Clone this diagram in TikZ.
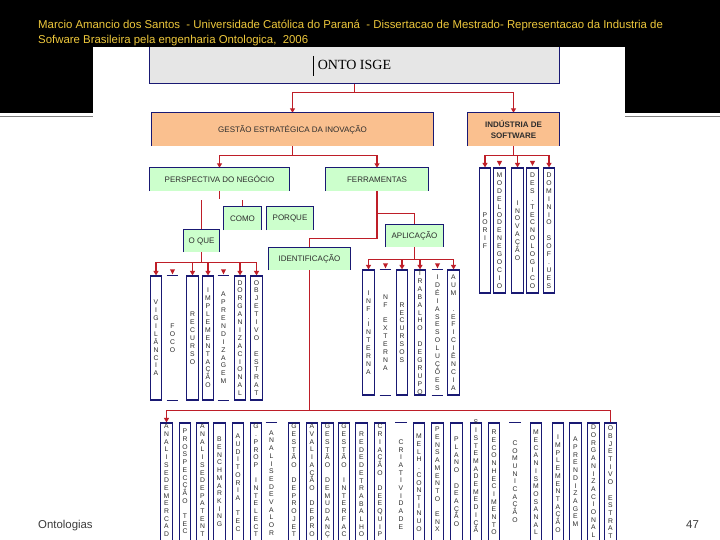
\documentclass[tikz,border=0pt]{standalone}
\usepackage{fontspec}
\setmainfont{Liberation Sans}
\newfontfamily\serfont{Liberation Serif}
\usetikzlibrary{arrows.meta,calc}
\pgfdeclarelayer{bg}
\pgfdeclarelayer{lines}
\pgfsetlayers{bg,lines,main}
\definecolor{navy}{RGB}{25,25,115}
\definecolor{conred}{RGB}{190,30,40}
\definecolor{peach}{RGB}{250,192,143}
\definecolor{lgreen}{RGB}{204,255,204}
\definecolor{lgrey}{RGB}{230,230,230}
\definecolor{ttlc}{RGB}{238,200,60}
\definecolor{txt}{RGB}{45,45,45}
\definecolor{foottxt}{RGB}{60,60,60}
\makeatletter
\def\vtxt#1{\parindent=0pt\vtxt@a#1\relax}
\def\vtxt@a#1{\ifx#1\relax\else\ifx#1_\mbox{}\else#1\fi\par\expandafter\vtxt@a\fi}
\makeatother
\newcommand\dtri[1]{\fill[conred] ($(#1.north)+(-2.6,-6.5)$) -- ($(#1.north)+(2.6,-6.5)$) -- ($(#1.north)+(0,-1.5)$) -- cycle;}
\newcommand\tside[1]{\draw[bord] (#1.south west) -- (#1.north west) -- (#1.north east) -- (#1.south east);}
\newcommand\openb[1]{\draw[bord] (#1.north west) -- (#1.north east); \draw[bord] (#1.south west) -- (#1.south east);}
\begin{document}
\begin{tikzpicture}[x=1pt,y=-1pt,
  conn/.style={draw=conred, line width=1.2pt},
  arr/.style={conn, -{Triangle[width=5pt,length=4.5pt]}},
  bord/.style={draw=navy, line width=1.2pt},
  cbox/.style={inner sep=0pt, font=\fontsize{8}{9.5}\selectfont, text=txt, align=center},
  vbx/.style={draw=navy, line width=1.2pt, inner sep=0pt, minimum width=11.5pt},
  obx/.style={inner sep=0pt, minimum width=11.5pt},
  vlab/.style={inner sep=0pt, text width=9pt, align=center, font=\fontsize{6.8}{7.9}\selectfont, text=txt},
  ttl/.style={anchor=base west, inner sep=0pt, text=ttlc, font=\fontsize{11.4}{13}\selectfont},
  foot/.style={anchor=base west, inner sep=0pt, text=foottxt, font=\fontsize{11.4}{13}\selectfont}]
\useasboundingbox (0,0) rectangle (720,540);
\begin{pgfonlayer}{bg}
  \fill[white] (0,0) rectangle (720,540);
  \fill[black] (0,0) rectangle (720,113);
  \draw[line width=1.5pt, gray] (0,116.5) -- (720,116.5);
  \fill[white] (93,47) rectangle (625,540);
\end{pgfonlayer}

% titles
\node[ttl] (t1) at (38,28.5) {Marcio Amancio dos Santos \ - Universidade Católica do Paraná \ - Dissertacao de Mestrado- Representacao da Industria de};
\node[ttl] (t2) at (38,43.5) {Sofware Brasileira pela engenharia Ontologica, \ 2006};
\node[foot] (ft) at (38,528) {Ontologias};
\node[foot] (pg) at (686,528) {47};

% main boxes
\node[cbox, fill=lgrey, minimum width=409pt, minimum height=36pt, font=\serfont\fontsize{14}{16}\selectfont, text=black] (onto) at (354.5,65) {ONTO ISGE};
\draw[bord] (onto.north west) -- (onto.south west) -- (onto.south east) -- (onto.north east);
\draw[line width=0.6pt, black] ($(onto.center)+(-41,-9)$) -- ($(onto.center)+(-41,11)$);

\node[cbox, fill=peach, minimum width=281pt, minimum height=33pt] (gestao) at (292.5,129.5) {GESTÃO ESTRATÉGICA DA INOVAÇÃO};
\node[cbox, fill=peach, minimum width=91pt, minimum height=33pt, font=\bfseries\fontsize{8}{11.5}\selectfont] (indus) at (513.5,129.5) {INDÚSTRIA DE\\SOFTWARE};
\node[cbox, fill=lgreen, minimum width=139pt, minimum height=23pt] (persp) at (219.5,179.5) {PERSPECTIVA DO NEGÓCIO};
\node[cbox, fill=lgreen, minimum width=102pt, minimum height=23pt] (ferr) at (377,179.5) {FERRAMENTAS};
\node[cbox, fill=lgreen, minimum width=37pt, minimum height=23pt] (como) at (242.5,218.5) {COMO};
\node[cbox, fill=lgreen, minimum width=46pt, minimum height=23pt] (porque) at (290,218.5) {PORQUE};
\node[cbox, fill=lgreen, minimum width=35pt, minimum height=22pt] (oque) at (201.5,241) {O QUE};
\node[cbox, fill=lgreen, minimum width=57pt, minimum height=22pt] (aplic) at (414.5,236) {APLICAÇÃO};
\node[cbox, fill=lgreen, minimum width=81pt, minimum height=22pt] (identif) at (309.5,259) {IDENTIFICAÇÃO};
\foreach \n in {gestao,indus,persp,ferr,como,porque,oque,aplic,identif} {\tside{\n}}

% industria group
\begin{scope}[every node/.append style={minimum height=125pt}]
\node[vbx] (i1) at (485,230.5) {};
\node[vbx] (i2) at (499.5,230.5) {};
\node[vbx] (i3) at (517.5,230.5) {};
\node[vbx] (i4) at (532.5,230.5) {};
\node[vbx] (i5) at (549,230.5) {};
\end{scope}
\node[vlab] (i1t) at (i1.center) {\vtxt{PORIF}};
\node[vlab] (i2t) at (i2.center) {\vtxt{MODELODENEGOCIO}};
\node[vlab] (i3t) at (i3.center) {\vtxt{INOVAÇÃO}};
\node[vlab] (i4t) at (i4.center) {\vtxt{DES.TECNOLOGICO}};
\node[vlab] (i5t) at (i5.center) {\vtxt{DOMINIO_SOF.UES}};

% perspectiva group
\begin{scope}[every node/.append style={minimum height=124pt}]
\node[vbx] (v1) at (156,338) {};
\node[obx] (v2) at (172.5,338) {};
\node[vbx] (v3) at (192.5,338) {};
\node[vbx] (v4) at (208,338) {};
\node[obx] (v5) at (223.5,338) {};
\node[vbx] (v6) at (240,338) {};
\node[vbx] (v7) at (256.5,338) {};
\end{scope}
\openb{v2}\openb{v5}
\node[vlab] (v1t) at (v1.center) {\vtxt{VIGILÂNCIA}};
\node[vlab] (v2t) at (v2.center) {\vtxt{FOCO}};
\node[vlab] (v3t) at (v3.center) {\vtxt{RECURSO}};
\node[vlab] (v4t) at (v4.center) {\vtxt{IMPLEMENTAÇÃO}};
\node[vlab] (v5t) at (v5.center) {\vtxt{APRENDIZAGEM}};
\node[vlab] (v6t) at (v6.center) {\vtxt{DORGANIZACIONAL}};
\node[vlab] (v7t) at (v7.center) {\vtxt{OBJETIVO_ESTRAT}};

% aplicacao group
\begin{scope}[every node/.append style={minimum height=125pt}]
\node[vbx] (a1) at (368.5,332.5) {};
\node[obx] (a2) at (385.5,332.5) {};
\node[vbx] (a3) at (402,332.5) {};
\node[vbx] (a4) at (420,332.5) {};
\node[obx] (a5) at (437.5,332.5) {};
\node[vbx] (a6) at (453.5,332.5) {};
\end{scope}
\openb{a2}\openb{a5}
\node[vlab] (a1t) at (a1.center) {\vtxt{INF.INTERNA}};
\node[vlab] (a2t) at (a2.center) {\vtxt{NF_EXTERNA}};
\node[vlab] (a3t) at (a3.center) {\vtxt{RECURSOS}};
\node[vlab] (a4t) at (a4.center) {\vtxt{TRABALHO_DEGRUPO}};
\node[vlab] (a5t) at (a5.center) {\vtxt{IDÉIASESOLUÇÕES}};
\node[vlab] (a6t) at (a6.center) {\vtxt{AUM_.EFICIÊNCIA}};

% bottom row
\begin{scope}[every node/.append style={minimum height=125pt}]
\foreach \n/\x/\s in {b1/166.5/vbx, b2/185/vbx, b3/202.5/vbx, b4/219.5/vbx, b5/238/vbx,
  b6/256/vbx, b7/271.5/obx, b8/294/vbx, b9/312/vbx, b10/327.5/vbx, b11/344/vbx,
  b12/361.5/vbx, b13/380/vbx, b14/401/obx, b15/419/vbx, b16/437.5/vbx, b17/456.5/vbx,
  b18/476/vbx, b19/494/vbx, b20/515/obx, b21/536/vbx, b22/558/vbx, b23/575.5/vbx,
  b24/593.5/vbx, b25/610.5/vbx}
  {\node[\s] (\n) at (\x,485.5) {};}
\end{scope}
\draw[bord] (b7.north west) -- (b7.north east);
\draw[bord] (b14.north west) -- (b14.north east);
\draw[bord] (b20.north west) -- (b20.north east);
\foreach \n/\o/\t in {b1/1.6/ANALISEDEMERCAD, b2/6.6/PROSPECÇÃO_TEC, b3/1.6/ANALISEDEPATENT,
  b4/14.6/BENCHMARKING, b5/11.6/AUDITORIA_TEC, b6/1.6/G.PROP_INTELECT,
  b7/7.6/ANALISEDEVALOR, b8/1.6/GESTÃO_DEPROJET, b9/1.6/AVALIAÇÃO_DEPRO,
  b10/1.6/GESTÃO_DEMUDANÇ, b11/1.6/GESTÃO_INTERFAC, b12/9.6/REDEDETRABALHO,
  b13/1.6/CRIAÇÃO_DEEQUIP, b14/16.6/CRIATIVIDADE, b15/11.6/MELH.CONTINUO,
  b16/4.6/PENSAMENTO_ENX, b17/14.6/PLANO_DEAÇÃO, b18/-2.4/SISTEMADEMEDIÇÃ,
  b19/7.6/RECONHECIMENTO, b20/17.6/COMUNICAÇÃO, b21/7.6/MECANISMOSANAL,
  b22/12.6/IMPLEMENTAÇÃO, b23/14.6/APRENDIZAGEM, b24/2.6/DORGANIZACIONAL,
  b25/3.4/OBJETIVO_ESTRAT}
  {\node[vlab, anchor=north, font=\fontsize{6.8}{7.7}\selectfont] (\n t) at ($(\n.north)+(0,\o)$) {\expandafter\vtxt\expandafter{\t}};}

% detached arrowheads
\dtri{i2}\dtri{i4}\dtri{v2}\dtri{v5}\dtri{a2}\dtri{a5}

% connectors
\begin{pgfonlayer}{lines}
\draw[arr] (onto.south) -- ++(0,9) -| (gestao.north);
\draw[arr] (onto.south) -- ++(0,9) -| (indus.north);
\draw[arr] (gestao.south) -- ++(0,9) -| (persp.north);
\draw[arr] (gestao.south) -- ++(0,9) -| (ferr.north);
\foreach \n in {i1,i3,i5} {\draw[arr] (indus.south) -- ++(0,9) -| (\n.north);}
\draw[conn] (persp.south) -- ++(0,8);
\draw[conn] (oque.north) -- ++(0,-30);
\draw[conn] (como.north) -- ++(0,-7);
\foreach \n in {v1,v3,v4,v6,v7} {\draw[arr] (oque.south) -- ++(0,10) -| (\n.north);}
\draw[conn] (ferr.south) -- ++(0,22) -| (aplic.north);
\draw[conn] (ferr.south) -- ++(0,47) -| (identif.north);
\foreach \n in {a1,a3,a4,a6} {\draw[arr] (aplic.south) -- ++(0,12) -| (\n.north);}
\coordinate (busL) at ($(b1.north)+(0,-12)$);
\coordinate (busR) at ($(b25.north)+(0,-12)$);
\draw[conn] (identif.south) -- (identif.south |- busL);
\draw[conn] (busL) -- (busR) -- (b25.north);
\draw[arr] (busL) -- (b1.north);
\end{pgfonlayer}
\end{tikzpicture}
\end{document}
